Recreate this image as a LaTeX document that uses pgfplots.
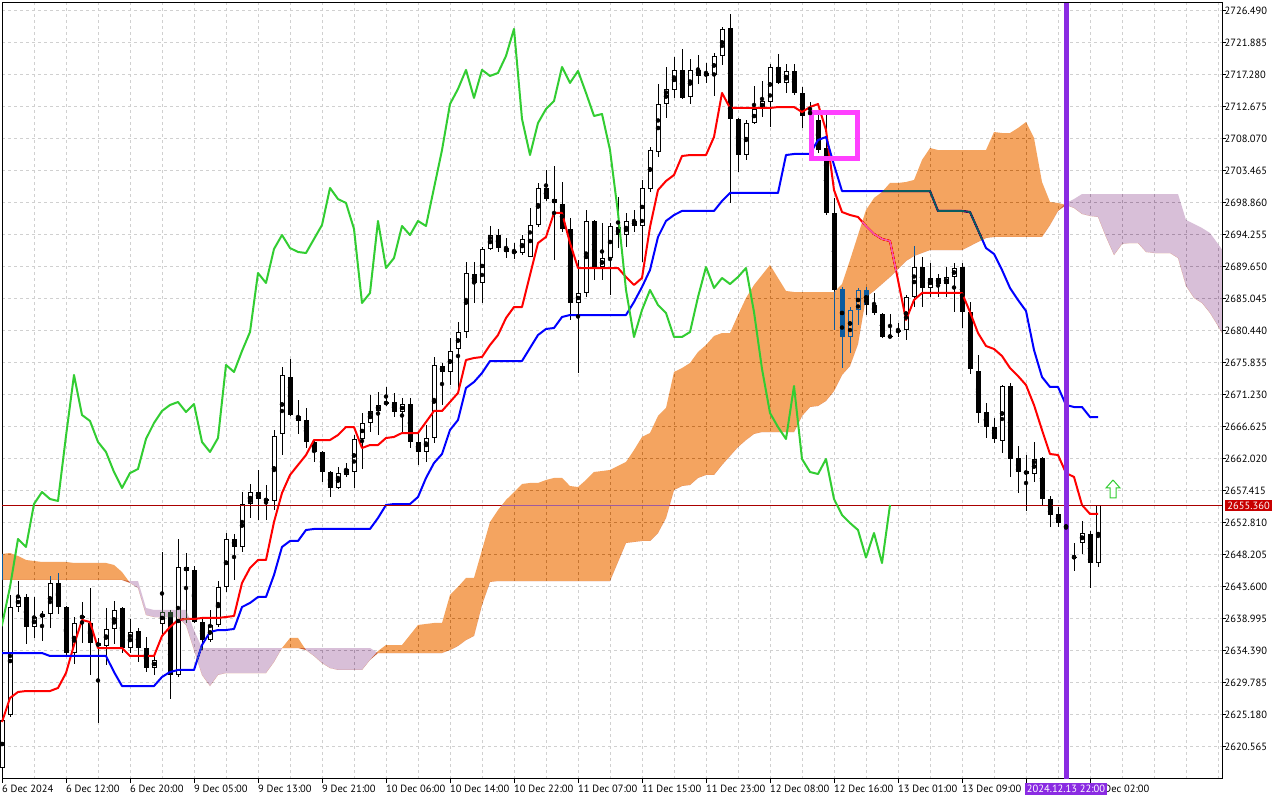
\documentclass[border=0pt]{standalone}
\usepackage{fontspec}
\setmainfont{PT Sans}
\usepackage{pgfplots}
\pgfplotsset{compat=1.18}
\usepackage{pgfplotstable}
\usepgfplotslibrary{fillbetween}
\definecolor{tenkan}{RGB}{255,0,0}
\definecolor{kijun}{RGB}{0,0,255}
\definecolor{chikou}{RGB}{50,205,50}
\definecolor{xorange}{RGB}{11,91,159}
\definecolor{xpurple}{RGB}{39,64,39}
\definecolor{gridc}{RGB}{208,208,208}
\definecolor{vline}{RGB}{138,43,226}
\definecolor{pline}{RGB}{170,0,0}
\definecolor{pbox}{RGB}{200,0,0}
\definecolor{mag}{RGB}{255,64,255}

\pgfplotstableread{
x o h l c t k
0 2617.51 2624.71 2617.23 2624.42 2624.13 2634.06
1 2625.14 2642.41 2624.85 2640.68 2627.59 2634.06
2 2640.68 2644.42 2639.96 2642.12 2628.45 2634.06
3 2642.12 2642.55 2635.36 2637.80 2628.59 2634.06
4 2637.80 2642.12 2636.22 2639.24 2628.59 2634.06
5 2639.24 2640.11 2635.79 2639.68 2628.59 2634.06
6 2639.68 2645.14 2637.66 2644.14 2628.59 2633.63
7 2644.14 2645.57 2639.68 2640.68 2629.03 2633.63
8 2640.68 2640.83 2633.49 2634.06 2631.18 2633.63
9 2634.06 2639.24 2632.48 2638.38 2635.21 2633.63
10 2639.10 2641.40 2635.50 2639.39 2638.81 2633.63
11 2638.38 2643.42 2630.90 2635.50 2638.52 2633.63
12 2635.50 2636.22 2623.99 2635.07 2634.78 2633.63
13 2635.07 2640.54 2632.34 2637.52 2634.78 2633.63
14 2637.52 2641.55 2635.36 2640.25 2634.78 2631.33
15 2640.54 2640.68 2634.06 2634.78 2634.78 2629.31
16 2634.78 2638.96 2634.06 2637.08 2633.63 2629.31
17 2637.23 2637.66 2632.77 2634.78 2633.63 2629.31
18 2634.78 2636.37 2631.33 2631.90 2633.63 2629.31
19 2631.90 2634.06 2630.90 2633.06 2633.63 2629.31
20 2638.24 2648.60 2636.65 2639.96 2636.51 2630.61
21 2639.96 2640.25 2627.44 2630.90 2637.80 2631.33
22 2630.90 2650.47 2630.61 2646.44 2638.81 2631.62
23 2646.44 2648.45 2638.38 2645.86 2638.96 2631.62
24 2646.01 2646.58 2638.38 2638.52 2638.96 2631.62
25 2638.52 2639.24 2634.49 2635.93 2639.10 2635.21
26 2635.93 2640.25 2635.65 2638.09 2639.10 2637.08
27 2638.09 2644.42 2637.80 2643.56 2639.10 2637.37
28 2643.56 2651.33 2642.84 2650.47 2639.24 2637.37
29 2650.47 2651.19 2644.57 2649.32 2639.39 2637.52
30 2649.32 2657.23 2648.60 2655.50 2644.14 2640.68
31 2655.50 2658.38 2653.49 2657.23 2646.29 2641.26
32 2657.23 2660.40 2653.20 2656.22 2647.45 2642.12
33 2656.22 2658.24 2653.20 2655.94 2647.45 2642.12
34 2655.94 2666.15 2654.64 2665.29 2652.91 2645.29
35 2665.58 2675.22 2662.55 2674.07 2657.09 2649.32
36 2673.78 2676.37 2668.17 2668.31 2659.68 2650.18
37 2668.17 2670.47 2665.58 2667.45 2661.12 2650.18
38 2667.59 2669.32 2663.56 2664.43 2662.55 2651.76
39 2664.43 2664.71 2661.55 2662.99 2664.71 2651.91
40 2662.99 2663.13 2658.67 2660.11 2664.71 2651.91
41 2660.11 2660.25 2656.51 2657.81 2664.71 2651.91
42 2657.81 2660.83 2657.66 2659.96 2665.43 2651.91
43 2659.68 2661.40 2659.39 2660.54 2666.58 2651.91
44 2660.11 2665.43 2657.81 2664.86 2666.58 2651.91
45 2664.86 2668.60 2660.54 2667.16 2663.56 2651.91
46 2667.16 2671.19 2665.86 2668.89 2663.99 2651.91
47 2668.89 2671.62 2665.43 2669.75 2663.99 2653.49
48 2669.89 2672.34 2669.61 2670.18 2665.00 2655.36
49 2670.18 2671.48 2668.02 2668.74 2665.15 2655.50
50 2668.74 2670.76 2665.72 2669.89 2665.72 2655.50
51 2669.89 2670.76 2663.56 2664.43 2665.72 2655.50
52 2664.43 2665.72 2661.12 2662.99 2665.72 2656.51
53 2662.99 2666.87 2661.55 2665.00 2667.30 2659.25
54 2665.00 2676.66 2664.28 2675.51 2668.89 2661.40
55 2675.36 2675.79 2669.75 2674.50 2668.89 2662.70
56 2674.50 2679.39 2672.63 2677.52 2670.18 2666.15
57 2677.81 2681.69 2671.91 2680.25 2671.48 2667.59
58 2680.25 2690.33 2679.39 2688.74 2676.23 2672.20
59 2688.60 2690.33 2684.43 2687.31 2676.51 2673.06
60 2687.31 2692.49 2684.43 2692.20 2676.66 2674.35
61 2692.20 2695.51 2692.05 2694.21 2678.38 2676.08
62 2694.21 2695.08 2691.77 2692.34 2679.82 2676.08
63 2692.34 2693.78 2690.90 2691.77 2682.27 2676.08
64 2691.91 2693.06 2690.76 2691.62 2683.85 2676.08
65 2691.62 2694.21 2691.33 2693.64 2683.85 2676.08
66 2691.05 2698.10 2691.05 2695.65 2688.46 2677.95
67 2695.65 2701.70 2695.36 2700.98 2693.06 2679.82
68 2700.98 2703.57 2699.11 2699.39 2693.93 2680.69
69 2699.39 2704.14 2690.62 2698.82 2697.38 2680.83
70 2698.67 2701.84 2694.64 2695.08 2697.38 2682.41
71 2695.08 2696.66 2681.98 2684.43 2693.06 2682.70
72 2684.43 2690.62 2674.35 2685.87 2689.46 2682.70
73 2685.87 2697.81 2685.29 2696.23 2689.46 2682.70
74 2696.23 2696.37 2687.74 2689.46 2689.46 2682.70
75 2689.61 2695.94 2687.74 2690.90 2689.46 2682.70
76 2690.90 2695.94 2685.58 2695.51 2689.46 2682.70
77 2695.36 2699.68 2692.34 2694.21 2689.46 2682.70
78 2694.21 2697.38 2692.49 2696.23 2688.17 2682.70
79 2696.23 2697.81 2694.64 2695.51 2687.02 2684.57
80 2695.51 2702.13 2690.33 2700.98 2688.03 2686.73
81 2700.83 2706.88 2700.40 2706.44 2695.36 2689.18
82 2706.16 2715.95 2705.44 2713.06 2700.69 2693.93
83 2713.06 2718.40 2711.05 2715.23 2701.98 2696.23
84 2715.09 2719.84 2713.94 2717.97 2702.85 2697.09
85 2717.97 2720.99 2713.79 2713.94 2705.58 2697.67
86 2714.08 2719.55 2713.06 2717.97 2705.72 2697.67
87 2717.97 2720.12 2715.95 2717.10 2705.72 2697.67
88 2717.10 2718.97 2716.10 2717.53 2705.72 2697.67
89 2717.25 2720.41 2714.22 2719.98 2708.32 2697.67
90 2719.98 2724.15 2718.69 2723.87 2714.66 2699.11
91 2724.01 2726.03 2698.82 2710.91 2712.49 2700.26
92 2710.91 2711.05 2703.28 2705.72 2712.49 2700.26
93 2705.72 2710.76 2705.01 2710.33 2712.49 2700.26
94 2710.33 2715.66 2710.19 2712.34 2712.49 2700.26
95 2712.34 2716.38 2711.19 2713.50 2712.49 2700.26
96 2713.35 2718.83 2709.75 2718.40 2712.49 2700.26
97 2718.40 2720.27 2715.95 2716.10 2712.63 2700.26
98 2716.10 2718.83 2714.66 2717.82 2712.63 2705.72
99 2717.82 2718.83 2714.37 2714.66 2712.63 2705.87
100 2714.66 2715.52 2709.61 2711.34 2711.91 2705.87
101 2711.91 2713.35 2711.34 2711.63 2712.63 2705.87
102 2710.76 2711.48 2706.01 2706.44 2713.06 2707.88
103 2706.73 2711.48 2697.09 2697.38 2709.32 2708.32
104 2697.38 2699.54 2680.54 2686.30 2700.69 2704.29
105 2686.44 2686.73 2675.07 2679.54 2697.52 2700.54
106 2679.54 2683.85 2677.23 2683.42 2697.09 2700.54
107 2683.42 2686.59 2681.26 2686.30 2696.80 2700.54
108 2686.30 2686.73 2682.70 2684.14 2695.51 2700.54
109 2684.14 2685.87 2682.70 2682.99 2694.36 2700.54
110 2682.85 2682.99 2679.39 2679.54 2693.64 2700.54
111 2679.68 2682.85 2679.39 2679.54 2693.35 2700.54
112 2680.54 2681.55 2679.54 2680.25 2687.74 2700.54
113 2680.54 2685.58 2679.10 2685.29 2681.98 2700.54
114 2685.29 2692.63 2683.85 2689.61 2684.86 2700.54
115 2689.61 2691.05 2683.85 2686.59 2685.87 2700.54
116 2686.59 2690.18 2685.29 2688.03 2685.87 2700.54
117 2688.03 2688.60 2685.29 2687.16 2685.87 2697.67
118 2687.16 2689.61 2685.29 2688.17 2685.87 2697.67
119 2688.17 2690.18 2683.13 2689.46 2685.87 2697.67
120 2689.61 2690.18 2680.83 2683.13 2685.87 2697.67
121 2683.13 2684.57 2674.21 2674.93 2683.13 2697.52
122 2674.64 2676.94 2667.16 2668.60 2680.11 2694.93
123 2668.74 2670.04 2665.00 2666.58 2678.24 2692.34
124 2666.58 2667.88 2664.28 2664.86 2677.81 2691.48
125 2664.57 2672.63 2662.84 2672.48 2676.80 2689.18
126 2672.48 2672.92 2659.39 2661.98 2675.07 2686.59
127 2662.12 2663.85 2657.09 2660.11 2673.92 2684.86
128 2660.25 2662.55 2654.50 2659.82 2672.63 2683.28
129 2659.82 2664.43 2658.67 2661.98 2669.75 2677.66
130 2662.12 2662.27 2655.36 2656.22 2666.15 2673.78
131 2656.22 2656.65 2652.19 2653.92 2662.70 2672.34
132 2654.07 2655.07 2652.19 2652.77 2662.55 2672.34
133 2652.77 2653.20 2651.04 2651.76 2659.96 2669.75
134 2647.88 2649.89 2645.86 2647.80 2659.39 2669.46
135 2649.89 2653.06 2648.31 2651.33 2655.36 2669.46
136 2651.19 2651.62 2643.42 2647.01 2654.07 2668.02
137 2647.01 2655.36 2646.44 2655.36 2654.07 2668.02
}\candles

\pgfplotstableread{
x a b
0 2648.31 2644.57
1 2648.45 2644.57
2 2648.02 2644.57
3 2647.45 2644.57
4 2647.30 2644.57
5 2647.16 2644.57
6 2647.16 2644.57
7 2647.16 2644.57
8 2647.16 2644.57
9 2647.02 2644.57
10 2647.02 2644.57
11 2647.02 2644.57
12 2647.02 2644.57
13 2647.02 2644.57
14 2646.73 2644.57
15 2645.72 2644.57
16 2644.14 2644.42
17 2643.42 2644.42
18 2639.53 2640.54
19 2639.24 2640.25
20 2639.24 2640.25
21 2639.24 2640.25
22 2639.24 2640.25
23 2638.09 2640.25
24 2634.49 2637.37
25 2630.90 2634.78
26 2629.31 2634.78
27 2630.90 2634.78
28 2631.18 2634.78
29 2631.18 2634.78
30 2631.18 2634.78
31 2631.18 2634.78
32 2631.18 2634.78
33 2631.18 2634.78
34 2632.77 2634.78
35 2634.78 2634.78
36 2636.22 2634.78
37 2636.22 2634.78
38 2634.49 2634.78
39 2633.63 2634.78
40 2632.62 2634.78
41 2631.90 2634.78
42 2631.62 2634.78
43 2631.62 2634.78
44 2631.62 2634.78
45 2631.62 2634.78
46 2633.06 2634.78
47 2634.35 2634.06
48 2635.21 2634.06
49 2635.21 2634.06
50 2635.21 2634.06
51 2636.65 2634.06
52 2638.09 2634.06
53 2638.24 2634.06
54 2638.38 2634.06
55 2638.38 2634.06
56 2642.41 2634.49
57 2643.56 2635.07
58 2644.86 2635.93
59 2644.86 2636.51
60 2648.88 2640.97
61 2652.91 2644.28
62 2654.64 2644.42
63 2656.08 2644.42
64 2657.23 2644.42
65 2658.38 2644.42
66 2658.53 2644.42
67 2658.53 2644.42
68 2658.96 2644.42
69 2659.25 2644.42
70 2659.25 2644.42
71 2658.09 2644.42
72 2657.95 2644.42
73 2658.96 2644.42
74 2660.11 2644.42
75 2660.25 2644.42
76 2660.40 2644.42
77 2660.98 2647.16
78 2661.55 2649.89
79 2663.27 2650.04
80 2665.15 2650.18
81 2665.72 2650.18
82 2668.17 2651.33
83 2669.32 2653.49
84 2674.50 2657.52
85 2675.07 2658.09
86 2675.79 2658.24
87 2677.38 2659.25
88 2678.38 2659.68
89 2679.68 2659.68
90 2680.11 2661.12
91 2680.11 2662.41
92 2682.70 2663.70
93 2685.15 2664.71
94 2687.02 2665.58
95 2688.46 2665.86
96 2689.90 2665.86
97 2688.03 2665.86
98 2686.16 2665.86
99 2686.01 2665.86
100 2686.01 2668.17
101 2686.01 2669.46
102 2686.01 2669.61
103 2686.01 2670.33
104 2686.01 2671.76
105 2687.16 2674.07
106 2690.62 2675.36
107 2694.21 2678.53
108 2697.81 2685.29
109 2699.54 2686.16
110 2700.40 2687.16
111 2701.70 2688.17
112 2701.70 2689.32
113 2701.84 2690.47
114 2702.13 2691.19
115 2705.01 2691.62
116 2706.73 2692.05
117 2706.44 2692.05
118 2706.44 2692.05
119 2706.44 2692.05
120 2706.44 2692.05
121 2706.44 2692.63
122 2706.44 2693.21
123 2706.44 2693.78
124 2709.03 2693.93
125 2708.89 2693.93
126 2708.89 2693.93
127 2709.61 2693.93
128 2710.47 2693.93
129 2708.17 2693.93
130 2701.84 2693.93
131 2698.96 2695.65
132 2698.82 2697.67
133 2698.53 2698.82
134 2698.10 2699.39
135 2697.24 2700.11
136 2696.95 2700.11
137 2696.80 2700.11
138 2693.93 2700.11
139 2691.33 2700.11
140 2692.92 2700.11
141 2693.06 2700.11
142 2693.06 2700.11
143 2691.77 2700.11
144 2691.62 2700.11
145 2691.62 2700.11
146 2691.62 2700.11
147 2690.90 2700.11
148 2686.88 2696.37
149 2685.15 2695.80
150 2684.43 2695.22
151 2682.99 2694.50
152 2681.12 2692.92
153 2679.10 2691.33
}\cloud

\begin{document}
\begin{tikzpicture}
\begin{axis}[
  at={(2pt,21pt)}, anchor=south west,
  width=1220pt, height=776pt, scale only axis,
  xmin=0, xmax=152.5, ymin=2615.93, ymax=2727.60,
  axis background/.style={fill=white},
  axis line style={black, line width=1pt},
  xtick={0,8,16,24,32,40,48,56,64,72,80,88,96,104,112,120,128,136},
  xticklabels={6 Dec 2024,6 Dec 12:00,6 Dec 20:00,9 Dec 05:00,9 Dec 13:00,9 Dec 21:00,10 Dec 06:00,10 Dec 14:00,10 Dec 22:00,11 Dec 07:00,11 Dec 15:00,11 Dec 23:00,12 Dec 08:00,12 Dec 16:00,13 Dec 01:00,13 Dec 09:00,{},\hphantom{16 }Dec 02:00},
  minor xtick={4,12,20,28,36,44,52,60,68,76,84,92,100,108,116,124,132,140,144,148,152},
  ytick={2620.565,2625.180,2629.785,2634.390,2638.995,2643.600,2648.205,2652.810,2657.415,2662.020,2666.625,2671.230,2675.835,2680.440,2685.045,2689.650,2694.255,2698.860,2703.465,2708.070,2712.675,2717.280,2721.885,2726.490},
  yticklabels={2620.565,2625.180,2629.785,2634.390,2638.995,2643.600,2648.205,2652.810,2657.415,2662.020,2666.625,2671.230,2675.835,2680.440,2685.045,2689.650,2694.255,2698.860,2703.465,2708.070,2712.675,2717.280,2721.885,2726.490},
  xtick pos=bottom, ytick pos=right, yticklabel pos=right,
  tick align=outside, major tick length=4pt, minor tick length=0pt,
  tick style={black, line width=1pt},
  grid=both,
  major grid style={gridc, line width=1pt, dash pattern=on 3pt off 3pt},
  minor grid style={gridc, line width=1pt, dash pattern=on 3pt off 3pt},
  tick label style={font=\fontsize{10.5}{12}\selectfont, black},
  xticklabel style={anchor=north west, inner xsep=0pt, inner ysep=1.5pt},
  yticklabel style={anchor=west, inner xsep=0pt, inner ysep=0pt, xshift=-1.5pt},
  clip=true,
]
% wicks
\addplot[on layer=pre main, only marks, mark=none, forget plot,
  error bars/.cd, y dir=both, y explicit, error mark=none,
  error bar style={draw=black, solid, line width=1pt}]
  table[x=x, y expr={0.5*(\thisrow{h}+\thisrow{l})}, y error expr={0.5*(\thisrow{h}-\thisrow{l})}] {\candles};
% bodies (outline / bearish fill)
\addplot[on layer=pre main, only marks, mark=none, forget plot,
  error bars/.cd, y dir=both, y explicit, error mark=none,
  error bar style={draw=black, solid, line width=5pt}]
  table[x=x, y expr={0.5*(\thisrow{o}+\thisrow{c})}, y error expr={max(0.5*abs(\thisrow{o}-\thisrow{c}),0.072)}] {\candles};
% bullish interior
\addplot[on layer=pre main, only marks, mark=none, forget plot,
  error bars/.cd, y dir=both, y explicit, error mark=none,
  error bar style={draw=white, solid, line width=3pt}]
  table[x=x, y expr={0.5*(\thisrow{o}+\thisrow{c})}, y error expr={max(0.5*(\thisrow{c}-\thisrow{o})-0.144,0)}] {\candles};
% Tenkan / Kijun
\addplot[on layer=pre main, tenkan, line width=2pt, mark=none, line join=round] table[x=x, y=t] {\candles};
\addplot[on layer=pre main, kijun, line width=2pt, mark=none, line join=round] table[x=x, y=k] {\candles};
% current price line
\addplot[on layer=pre main, pline, line width=1pt, mark=none] coordinates {(0,2655.29) (152.5,2655.29)};
% cloud
\addplot[draw=none, mark=none, name path=cA, forget plot] table[x=x, y=a] {\cloud};
\addplot[draw=none, mark=none, name path=cB, forget plot] table[x=x, y=b] {\cloud};
\addplot[draw=none, mark=none, name path=cM, forget plot] table[x=x, y expr={min(\thisrow{a},\thisrow{b})}] {\cloud};
\addplot[fill=xorange, draw=none, blend mode=difference] fill between[of=cA and cM];
\addplot[fill=xpurple, draw=none, blend mode=difference] fill between[of=cB and cM];
% Chikou
\addplot[chikou, line width=2pt, mark=none, line join=round] table[x expr={\thisrow{x}-26}, y=c] {\candles};
% vertical line
\addplot[vline, line width=5pt, mark=none] coordinates {(133,2615.93) (133,2727.60)};
% magenta rectangle
\addplot[mag, line width=5pt, mark=none, line cap=rect, line join=miter] coordinates {(101.19,2711.85) (106.94,2711.85) (106.94,2705.15) (101.19,2705.15) (101.19,2711.85)};
% buy arrow
\addplot[draw=chikou, fill=white, line width=1pt, mark=none, line join=miter] coordinates {(138.875,2658.96) (139.75,2657.81) (139.25,2657.81) (139.25,2656.37) (138.5,2656.37) (138.5,2657.81) (138.0,2657.81) (138.875,2658.96)};
\coordinate (vl) at (axis cs:133,2615.93);
\coordinate (pl) at (axis cs:152.5,2655.29);
\end{axis}
\node[fill=vline, text=white, anchor=north, inner xsep=1.5pt, inner ysep=2.2pt, text height=7.3pt, text depth=0pt, font=\fontsize{10.5}{12}\selectfont] at ([yshift=-4.3pt]vl) {2024.12.13 22:00};
\node[fill=pbox, text=white, anchor=west, inner xsep=2.2pt, inner ysep=1.6pt, text height=7.3pt, text depth=0pt, font=\fontsize{10.5}{12}\selectfont] at ([xshift=3pt]pl) {2655.360};
\pgfresetboundingbox
\useasboundingbox (0,0) rectangle (1280pt,800pt);
\end{tikzpicture}
\end{document}
